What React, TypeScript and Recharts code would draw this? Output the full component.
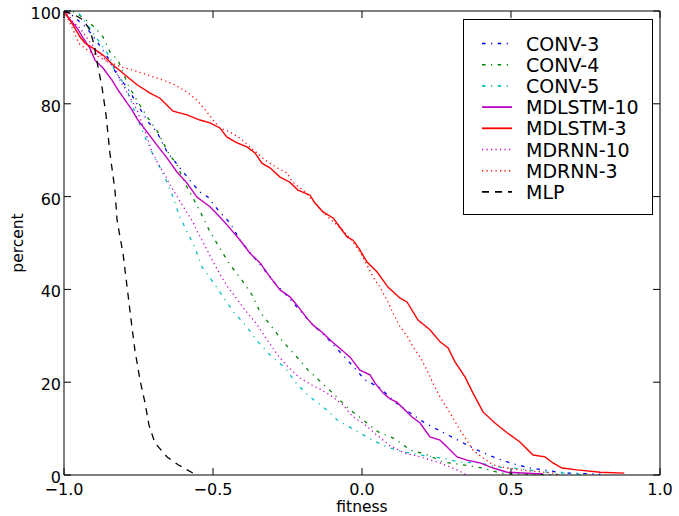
import { LineChart, Line, XAxis, YAxis, Legend } from 'recharts';

type Pt = [number, number];

// fitness (x) vs percent (y)
const conv3: Pt[] = [
  [-1, 100], [-0.973, 99.1], [-0.923, 96.3], [-0.886, 93.1], [-0.852, 89.9], [-0.822, 86.2],
  [-0.789, 83.6], [-0.752, 79.7], [-0.718, 76.1], [-0.688, 73.9], [-0.654, 69.6], [-0.611, 66.2],
  [-0.57, 62.9], [-0.544, 61.0], [-0.517, 59.9], [-0.483, 57.1], [-0.443, 54.3], [-0.409, 50.6],
  [-0.369, 47.4], [-0.332, 44.6], [-0.29, 41.2], [-0.248, 38.4], [-0.205, 35.2], [-0.164, 32.3],
  [-0.117, 29.5], [-0.074, 26.5], [-0.034, 23.7], [0.01, 20.5], [0.06, 18.8], [0.111, 15.7],
  [0.161, 13.4], [0.211, 11.2], [0.268, 9.3], [0.322, 7.5], [0.379, 5.6], [0.44, 3.9],
  [0.497, 2.6], [0.564, 1.5], [0.688, 0.4], [0.8, 0.2],
];
const conv4: Pt[] = [
  [-1, 100], [-0.963, 99.8], [-0.913, 97.4], [-0.889, 95.9], [-0.869, 94.4], [-0.846, 91.2],
  [-0.819, 89.4], [-0.785, 84.1], [-0.752, 80.4], [-0.718, 76.9], [-0.685, 73.9], [-0.651, 69.6],
  [-0.621, 66.8], [-0.594, 62.9], [-0.567, 59.7], [-0.534, 55.6], [-0.51, 52.4], [-0.477, 48.9],
  [-0.443, 45.3], [-0.403, 42.0], [-0.369, 38.8], [-0.342, 35.1], [-0.302, 31.9], [-0.265, 28.7],
  [-0.221, 25.6], [-0.181, 22.6], [-0.134, 19.8], [-0.091, 17.2], [-0.047, 14.4], [0.003, 11.9],
  [0.054, 9.3], [0.111, 7.8], [0.161, 5.4], [0.221, 4.3], [0.272, 2.8], [0.339, 2.2],
  [0.406, 1.5], [0.463, 0.4], [0.66, 0],
];
const conv5: Pt[] = [
  [-1, 100], [-0.953, 99.8], [-0.913, 96.3], [-0.879, 93.1], [-0.846, 90.1], [-0.829, 86.9],
  [-0.812, 85.8], [-0.785, 82.3], [-0.762, 78.2], [-0.735, 73.9], [-0.701, 69.0], [-0.685, 67.2],
  [-0.658, 63.6], [-0.634, 59.9], [-0.614, 56.0], [-0.587, 52.4], [-0.56, 48.9], [-0.537, 44.8],
  [-0.5, 41.6], [-0.466, 38.4], [-0.43, 35.1], [-0.386, 31.9], [-0.349, 28.7], [-0.305, 25.6],
  [-0.258, 23.1], [-0.221, 19.8], [-0.178, 17.0], [-0.131, 14.7], [-0.084, 11.9], [-0.03, 9.9],
  [0.027, 7.8], [0.084, 6.0], [0.138, 5.0], [0.195, 4.3], [0.262, 3.7], [0.329, 2.8],
  [0.396, 2.6], [0.453, 1.7], [0.507, 1.5], [0.621, 0.6], [0.732, 0.2],
];
const mdlstm10: Pt[] = [
  [-1, 100], [-0.98, 98.1], [-0.956, 96.3], [-0.936, 94.2], [-0.913, 92.0], [-0.896, 89.4],
  [-0.869, 87.7], [-0.839, 85.1], [-0.819, 83.0], [-0.795, 80.8], [-0.772, 78.7], [-0.752, 76.5],
  [-0.721, 73.9], [-0.688, 71.1], [-0.654, 68.3], [-0.621, 65.3], [-0.587, 62.9], [-0.554, 59.9],
  [-0.51, 57.8], [-0.477, 55.6], [-0.453, 53.9], [-0.433, 52.4], [-0.409, 50.6], [-0.376, 47.8],
  [-0.342, 45.7], [-0.309, 42.7], [-0.275, 39.9], [-0.242, 38.4], [-0.218, 36.6], [-0.185, 33.8],
  [-0.164, 32.3], [-0.131, 30.6], [-0.107, 29.1], [-0.067, 26.9], [-0.04, 25.4], [-0.007, 22.6],
  [0.027, 21.6], [0.044, 19.8], [0.07, 17.7], [0.094, 16.4], [0.117, 15.7], [0.144, 14.0],
  [0.168, 12.5], [0.195, 11.2], [0.228, 8.2], [0.262, 7.5], [0.289, 5.8], [0.319, 3.9],
  [0.352, 3.2], [0.396, 2.6], [0.44, 1.5], [0.487, 0.6], [0.607, 0.2],
];
const mdlstm3: Pt[] = [
  [-1, 100], [-0.97, 97.0], [-0.946, 94.4], [-0.93, 93.1], [-0.903, 92.0], [-0.869, 90.5],
  [-0.836, 88.4], [-0.802, 86.6], [-0.755, 84.1], [-0.711, 82.3], [-0.678, 81.2], [-0.634, 78.4],
  [-0.587, 77.6], [-0.544, 76.5], [-0.51, 75.9], [-0.477, 74.8], [-0.453, 72.8], [-0.419, 71.6],
  [-0.386, 70.7], [-0.359, 69.4], [-0.336, 67.2], [-0.309, 66.2], [-0.275, 64.2], [-0.242, 63.1],
  [-0.215, 61.4], [-0.174, 60.3], [-0.158, 58.6], [-0.131, 56.7], [-0.097, 55.4], [-0.074, 53.4],
  [-0.05, 51.3], [-0.03, 50.6], [-0.007, 48.5], [0.017, 45.9], [0.05, 43.8], [0.087, 40.5],
  [0.128, 38.1], [0.151, 37.3], [0.188, 33.4], [0.228, 31.3], [0.262, 28.7], [0.289, 27.4],
  [0.312, 24.4], [0.346, 21.1], [0.372, 17.7], [0.406, 13.6], [0.446, 11.2], [0.487, 9.1],
  [0.53, 7.1], [0.574, 4.3], [0.614, 3.9], [0.641, 2.6], [0.671, 1.5], [0.721, 1.1],
  [0.799, 0.6], [0.88, 0.4],
];
const mdrnn10: Pt[] = [
  [-1, 100], [-0.99, 99.8], [-0.97, 97.6], [-0.946, 96.3], [-0.913, 93.3], [-0.879, 90.5],
  [-0.852, 89.0], [-0.829, 87.7], [-0.812, 85.1], [-0.789, 82.5], [-0.755, 78.7], [-0.721, 72.8],
  [-0.705, 69.6], [-0.678, 66.4], [-0.661, 64.7], [-0.644, 62.5], [-0.628, 60.8], [-0.607, 58.6],
  [-0.587, 56.5], [-0.567, 54.5], [-0.554, 52.6], [-0.537, 50.6], [-0.52, 48.5], [-0.5, 46.0],
  [-0.477, 43.3], [-0.45, 40.5], [-0.416, 37.6], [-0.393, 35.6], [-0.359, 33.0], [-0.329, 30.2],
  [-0.302, 27.6], [-0.275, 25.2], [-0.245, 23.1], [-0.208, 20.9], [-0.168, 19.4], [-0.134, 18.3],
  [-0.097, 16.8], [-0.064, 15.1], [-0.03, 12.5], [0.003, 11.2], [0.05, 8.6], [0.094, 6.3],
  [0.144, 4.7], [0.195, 3.9], [0.262, 2.6], [0.319, 1.1], [0.352, 0],
];
const mdrnn3: Pt[] = [
  [-1, 100], [-0.97, 96.0], [-0.95, 93.0], [-0.92, 91.5], [-0.88, 90.0], [-0.85, 89.0],
  [-0.805, 87.9], [-0.772, 87.3], [-0.718, 86.2], [-0.668, 85.1], [-0.628, 84.1], [-0.587, 82.5],
  [-0.554, 80.8], [-0.52, 78.2], [-0.5, 76.5], [-0.477, 74.8], [-0.443, 73.9], [-0.409, 72.6],
  [-0.383, 71.1], [-0.352, 69.4], [-0.326, 67.9], [-0.285, 66.2], [-0.252, 65.1], [-0.232, 63.1],
  [-0.191, 61.0], [-0.158, 58.6], [-0.114, 55.6], [-0.091, 54.3], [-0.067, 52.8], [-0.034, 50.6],
  [0.003, 47.0], [0.02, 44.8], [0.037, 42.7], [0.06, 40.5], [0.084, 37.7], [0.104, 34.9],
  [0.128, 31.9], [0.154, 29.7], [0.171, 27.6], [0.195, 25.4], [0.218, 22.6], [0.238, 19.8],
  [0.262, 16.8], [0.285, 14.4], [0.305, 12.3], [0.329, 9.7], [0.352, 7.5], [0.372, 5.4],
  [0.406, 3.7], [0.44, 2.2], [0.487, 1.5], [0.53, 1.1], [0.641, 0.4], [0.66, 0],
];
const mlp: Pt[] = [
  [-1, 100], [-0.963, 99.1], [-0.936, 98.1], [-0.913, 95.9], [-0.899, 92.7], [-0.889, 89.0],
  [-0.872, 83.4], [-0.859, 77.6], [-0.846, 69.4], [-0.829, 61.4], [-0.822, 55.0], [-0.812, 51.3],
  [-0.802, 47.8], [-0.789, 40.9], [-0.779, 35.6], [-0.772, 31.9], [-0.762, 26.9], [-0.745, 20.5],
  [-0.728, 15.5], [-0.715, 10.8], [-0.695, 6.9], [-0.654, 3.9], [-0.617, 2.2], [-0.567, 0.4],
  [-0.554, 0],
];

const xTicks = [-1, -0.5, 0, 0.5, 1];
const yTicks = [0, 20, 40, 60, 80, 100];

const DASHDOT = '3.5 5.5 1.2 5.5';
const DOTTED = '1.2 3.3';
const DASHED = '7 6';

const series = [
  { name: 'CONV-3', pts: conv3, color: '#0000ff', dash: DASHDOT },
  { name: 'CONV-4', pts: conv4, color: '#008000', dash: DASHDOT },
  { name: 'CONV-5', pts: conv5, color: '#00bfbf', dash: DASHDOT },
  { name: 'MDLSTM-10', pts: mdlstm10, color: '#bf00bf', dash: undefined },
  { name: 'MDLSTM-3', pts: mdlstm3, color: '#ff0000', dash: undefined },
  { name: 'MDRNN-10', pts: mdrnn10, color: '#bf00bf', dash: DOTTED },
  { name: 'MDRNN-3', pts: mdrnn3, color: '#ff0000', dash: DOTTED },
  { name: 'MLP', pts: mlp, color: '#000000', dash: DASHED },
];

const toRows = (pts: Pt[]) => pts.map(([x, y]) => ({ x, y }));

const FONT = '"DejaVu Sans", sans-serif';
const TICK = 7;

const fmtX = (v: number) => v.toFixed(1).replace('-', '\u2212');

function BottomTick({ x, y, payload }: any) {
  return (
    <g>
      <line x1={x} y1={y} x2={x} y2={y - TICK} stroke="#000" />
      <text x={x} y={y + 20} textAnchor="middle" fontSize={16} fontFamily={FONT} fill="#000">
        {fmtX(payload.value)}
      </text>
    </g>
  );
}

function TopTick({ x, y }: any) {
  return <line x1={x} y1={y} x2={x} y2={y + TICK} stroke="#000" />;
}

function LeftTick({ x, y, payload }: any) {
  return (
    <g>
      <line x1={x} y1={y} x2={x + TICK} y2={y} stroke="#000" />
      <text x={x - 3} y={y + 8} textAnchor="end" fontSize={16} fontFamily={FONT} fill="#000">
        {payload.value}
      </text>
    </g>
  );
}

function RightTick({ x, y }: any) {
  return <line x1={x} y1={y} x2={x - TICK} y2={y} stroke="#000" />;
}

function XTitle({ viewBox }: any) {
  const cx = viewBox.x + viewBox.width / 2;
  return (
    <text x={cx} y={512} textAnchor="middle" fontSize={15.5} fontFamily={FONT} fill="#000">
      fitness
    </text>
  );
}

function YTitle({ viewBox }: any) {
  const cy = viewBox.y + viewBox.height / 2;
  return (
    <text x={23} y={cy} transform={`rotate(-90 23 ${cy})`} textAnchor="middle" fontSize={15.5} fontFamily={FONT} fill="#000">
      percent
    </text>
  );
}

function LegendBox() {
  return (
    <svg width={190} height={196} style={{ display: 'block' }}>
      <rect x={0.5} y={0.5} width={189} height={195} fill="#fff" stroke="#000" />
      {series.map((s, i) => {
        const cy = 24.5 + i * 21.2;
        return (
          <g key={s.name}>
            <line x1={19} y1={cy} x2={49} y2={cy} stroke={s.color} strokeWidth={s.dash ? 1.6 : 1.8} strokeDasharray={s.dash} />
            <text x={63} y={cy + 7} fontSize={19} fontFamily={FONT} fill="#000">{s.name}</text>
          </g>
        );
      })}
    </svg>
  );
}

export default function App() {
  return (
    <div style={{ position: 'absolute', left: 0, top: 0, width: 679, height: 516, background: '#fff' }}>
      <LineChart width={679} height={516} margin={{ top: 10, right: 18, bottom: 0, left: 0 }}>
        <XAxis
          xAxisId="b"
          dataKey="x"
          type="number"
          domain={[-1, 1]}
          ticks={xTicks}
          allowDataOverflow
          height={41}
          tickSize={0}
          tickMargin={0}
          tickLine={false}
          axisLine={{ stroke: '#000' }}
          tick={<BottomTick />}
          interval={0}
          label={<XTitle />}
        />
        <XAxis
          xAxisId="t"
          orientation="top"
          dataKey="x"
          type="number"
          domain={[-1, 1]}
          ticks={xTicks}
          allowDataOverflow
          height={1}
          tickSize={0}
          tickMargin={0}
          tickLine={false}
          axisLine={{ stroke: '#000' }}
          tick={<TopTick />}
          interval={0}
        />
        <YAxis
          yAxisId="l"
          type="number"
          domain={[0, 100]}
          ticks={yTicks}
          allowDataOverflow
          width={64}
          tickSize={0}
          tickMargin={0}
          tickLine={false}
          axisLine={{ stroke: '#000' }}
          tick={<LeftTick />}
          interval={0}
          label={<YTitle />}
        />
        <YAxis
          yAxisId="r"
          orientation="right"
          type="number"
          domain={[0, 100]}
          ticks={yTicks}
          allowDataOverflow
          width={1}
          tickSize={0}
          tickMargin={0}
          tickLine={false}
          axisLine={{ stroke: '#000' }}
          tick={<RightTick />}
          interval={0}
        />
        {series.map((s) => (
          <Line
            key={s.name}
            xAxisId="b"
            yAxisId="l"
            data={toRows(s.pts)}
            dataKey="y"
            name={s.name}
            type="linear"
            stroke={s.color}
            strokeWidth={s.dash ? 1.3 : 1.4}
            strokeDasharray={s.dash}
            dot={false}
            activeDot={false}
            isAnimationActive={false}
          />
        ))}
        <Legend
          layout="horizontal"
          verticalAlign="middle"
          align="center"
          content={() => <LegendBox />}
          wrapperStyle={{ left: 463, top: 19, width: 190, height: 196 }}
        />
      </LineChart>
    </div>
  );
}
